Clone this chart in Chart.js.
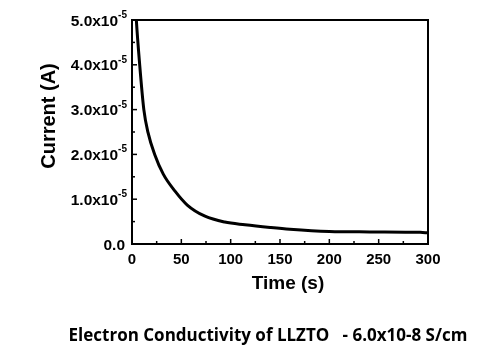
<!DOCTYPE html>
<html>
<head>
<meta charset="utf-8">
<script src="https://cdn.jsdelivr.net/npm/chart.js@4"></script>
<style>
  body { margin: 0; background: #fff; }
  #wrap { position: relative; width: 497px; height: 361px; }
  #caption {
    position: absolute; left: 0; width: 536px; top: 323px; text-align: center;
    font-family: "Open Sans", sans-serif; font-weight: bold; font-size: 17px;
    white-space: pre; color: #000;
  }
</style>
</head>
<body>
<div id="wrap">
  <canvas id="ivChart" width="497" height="361"></canvas>
  <div id="caption">Electron Conductivity of LLZTO   - 6.0x10-8 S/cm</div>
</div>
<script>
// time (s) and current (A)
const times = [3, 4.4, 7.8, 12, 16.2, 23, 31.7, 43.6, 56, 74, 94, 114.5, 140, 160, 200, 241, 292, 300];
const current = [5.6e-5, 5.0e-5, 4.0e-5, 3.0e-5, 2.49e-5, 2.0e-5, 1.56e-5, 1.18e-5, 0.87e-5, 0.62e-5, 0.49e-5, 0.43e-5,
  0.37e-5, 0.33e-5, 0.28e-5, 0.27e-5, 0.26e-5, 0.25e-5];
const xTicks = [0, 50, 100, 150, 200, 250, 300];
const yTicks = [0, 1e-5, 2e-5, 3e-5, 4e-5, 5e-5];

const ctx = document.getElementById('ivChart').getContext('2d');

// inward ticks, closed frame, y labels with superscript, axis titles
const frameTicks = {
  id: 'frameTicks',
  afterDraw(chart) {
    const { ctx, chartArea: a, scales: { x, y } } = chart;
    ctx.save();
    ctx.strokeStyle = '#000';
    ctx.fillStyle = '#000';
    ctx.lineWidth = 2;
    ctx.strokeRect(a.left, a.top, a.right - a.left, a.bottom - a.top);
    ctx.lineWidth = 1.5;
    for (let t = 0; t <= 300; t += 25) {
      const px = x.getPixelForValue(t);
      const len = t % 50 === 0 ? 5 : 3;
      ctx.beginPath(); ctx.moveTo(px, a.bottom); ctx.lineTo(px, a.bottom - len); ctx.stroke();
    }
    for (let i = 0; i <= 10; i++) {
      const py = y.getPixelForValue(i * 0.5e-5);
      const len = i % 2 === 0 ? 5 : 3;
      ctx.beginPath(); ctx.moveTo(a.left, py); ctx.lineTo(a.left + len, py); ctx.stroke();
    }

    // y tick labels  "n.0x10" + superscript "-5"
    const right = a.left - 5;
    ctx.textAlign = 'right';
    ctx.textBaseline = 'alphabetic';
    yTicks.forEach(v => {
      const py = y.getPixelForValue(v);
      ctx.font = 'bold 15.5px "Liberation Sans"';
      if (v === 0) {
        ctx.fillText('0.0', right - 2, py + 5.5);
        return;
      }
      const sup = '-5';
      ctx.font = 'bold 10px "Liberation Sans"';
      const sw = ctx.measureText(sup).width;
      ctx.fillText(sup, right, py - 2);
      ctx.font = 'bold 15.5px "Liberation Sans"';
      ctx.fillText((Math.round(v / 1e-6) / 10).toFixed(1) + 'x10', right - sw, py + 5.5);
    });

    // axis titles
    ctx.textAlign = 'center';
    ctx.textBaseline = 'middle';
    ctx.font = 'bold 19px "Liberation Sans"';
    ctx.fillText('Time (s)', 288, 284);
    ctx.translate(49, 116);
    ctx.rotate(-Math.PI / 2);
    ctx.font = 'bold 20px "Liberation Sans"';
    ctx.fillText('Current (A)', 0, 0);
    ctx.restore();
  }
};

new Chart(ctx, {
  type: 'line',
  data: {
    datasets: [{
      data: times.map((t, i) => ({ x: t, y: current[i] })),
      borderColor: '#000',
      borderWidth: 3,
      pointRadius: 0,
      cubicInterpolationMode: 'monotone',
      fill: false
    }]
  },
  options: {
    responsive: false,
    animation: false,
    layout: { padding: { top: 20, right: 69, bottom: 63, left: 36 } },
    plugins: { legend: { display: false }, tooltip: { enabled: false } },
    scales: {
      x: {
        type: 'linear',
        min: 0, max: 300,
        afterBuildTicks: s => { s.ticks = xTicks.map(v => ({ value: v })); },
        afterFit: s => { s.height = 54; },
        grid: { display: false, drawTicks: false },
        border: { display: false },
        ticks: { color: '#000', padding: 7, maxRotation: 0, font: { family: 'Liberation Sans', weight: 'bold', size: 15 } }
      },
      y: {
        min: 0, max: 5e-5,
        afterBuildTicks: s => { s.ticks = yTicks.map(v => ({ value: v })); },
        afterFit: s => { s.width = 96; },
        grid: { display: false, drawTicks: false },
        border: { display: false },
        ticks: { display: false }
      }
    }
  },
  plugins: [frameTicks]
});
</script>
</body>
</html>
